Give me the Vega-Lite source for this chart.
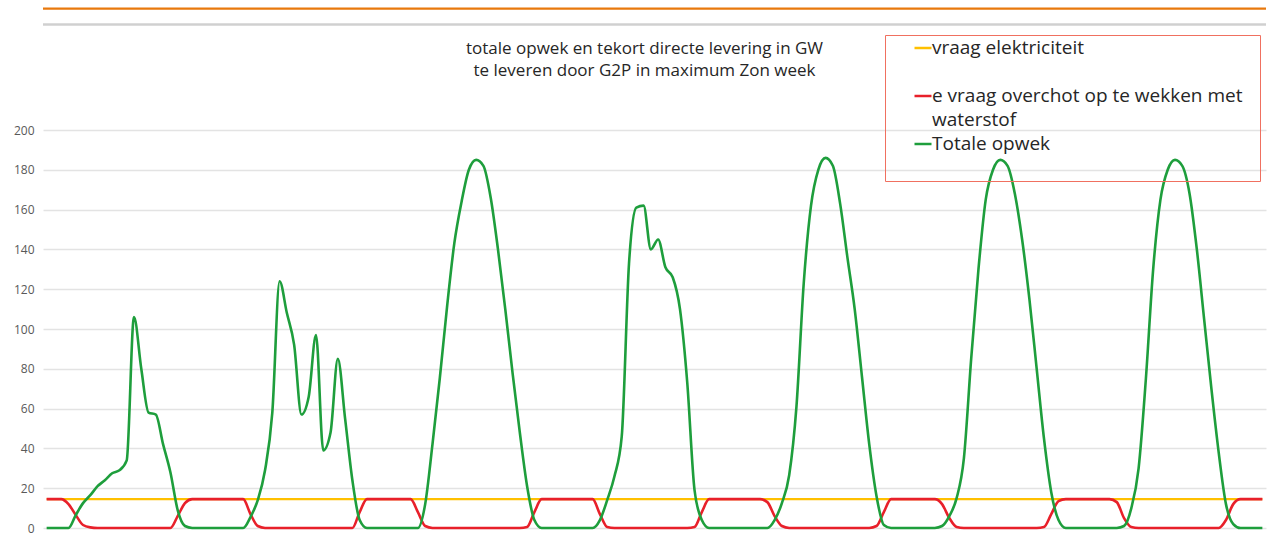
{
  "$schema": "https://vega.github.io/schema/vega-lite/v6.json",
  "autosize": {"type": "none"},
  "width": 1223,
  "height": 398,
  "padding": {"left": 43, "top": 130, "right": 5, "bottom": 5},
  "background": "white",
  "config": {"view": {"stroke": null}},
  "title": {
    "text": ["totale opwek en tekort directe levering in GW", "te leveren door G2P  in maximum  Zon week"],
    "font": "Open Sans", "fontSize": 17, "fontWeight": "normal", "color": "#262626",
    "anchor": "middle", "frame": "group", "dx": -10, "offset": -72, "lineHeight": 22
  },
  "data": {"values": [
      {"h":0,"vraag":14.5,"tekort":14.5,"opwek":0},{"h":1,"vraag":14.5,"tekort":14.5,"opwek":0},{"h":2,"vraag":14.5,"tekort":14.5,"opwek":0},{"h":3,"vraag":14.5,"tekort":12,"opwek":0},{"h":4,"vraag":14.5,"tekort":6.5,"opwek":6.5},{"h":5,"vraag":14.5,"tekort":1.5,"opwek":12.5},{"h":6,"vraag":14.5,"tekort":0.3,"opwek":16.5},{"h":7,"vraag":14.5,"tekort":0,"opwek":21},{"h":8,"vraag":14.5,"tekort":0,"opwek":24},{"h":9,"vraag":14.5,"tekort":0,"opwek":27.5},
      {"h":10,"vraag":14.5,"tekort":0,"opwek":29},{"h":11,"vraag":14.5,"tekort":0,"opwek":34},{"h":12,"vraag":14.5,"tekort":0,"opwek":106},{"h":13,"vraag":14.5,"tekort":0,"opwek":80},{"h":14,"vraag":14.5,"tekort":0,"opwek":58},{"h":15,"vraag":14.5,"tekort":0,"opwek":57},{"h":16,"vraag":14.5,"tekort":0,"opwek":42},{"h":17,"vraag":14.5,"tekort":0,"opwek":28},{"h":18,"vraag":14.5,"tekort":6,"opwek":9},{"h":19,"vraag":14.5,"tekort":12.5,"opwek":1},
      {"h":20,"vraag":14.5,"tekort":14.5,"opwek":0},{"h":21,"vraag":14.5,"tekort":14.5,"opwek":0},{"h":22,"vraag":14.5,"tekort":14.5,"opwek":0},{"h":23,"vraag":14.5,"tekort":14.5,"opwek":0},{"h":24,"vraag":14.5,"tekort":14.5,"opwek":0},{"h":25,"vraag":14.5,"tekort":14.5,"opwek":0},{"h":26,"vraag":14.5,"tekort":14.5,"opwek":0},{"h":27,"vraag":14.5,"tekort":14.5,"opwek":0},{"h":28,"vraag":14.5,"tekort":7,"opwek":5.5},{"h":29,"vraag":14.5,"tekort":1,"opwek":14},
      {"h":30,"vraag":14.5,"tekort":0,"opwek":29},{"h":31,"vraag":14.5,"tekort":0,"opwek":58},{"h":32,"vraag":14.5,"tekort":0,"opwek":124},{"h":33,"vraag":14.5,"tekort":0,"opwek":108},{"h":34,"vraag":14.5,"tekort":0,"opwek":92},{"h":35,"vraag":14.5,"tekort":0,"opwek":57},{"h":36,"vraag":14.5,"tekort":0,"opwek":66},{"h":37,"vraag":14.5,"tekort":0,"opwek":97},{"h":38,"vraag":14.5,"tekort":0,"opwek":39},{"h":39,"vraag":14.5,"tekort":0,"opwek":48},
      {"h":40,"vraag":14.5,"tekort":0,"opwek":85},{"h":41,"vraag":14.5,"tekort":0,"opwek":55},{"h":42,"vraag":14.5,"tekort":0,"opwek":24},{"h":43,"vraag":14.5,"tekort":8,"opwek":4},{"h":44,"vraag":14.5,"tekort":14.5,"opwek":0},{"h":45,"vraag":14.5,"tekort":14.5,"opwek":0},{"h":46,"vraag":14.5,"tekort":14.5,"opwek":0},{"h":47,"vraag":14.5,"tekort":14.5,"opwek":0},{"h":48,"vraag":14.5,"tekort":14.5,"opwek":0},{"h":49,"vraag":14.5,"tekort":14.5,"opwek":0},
      {"h":50,"vraag":14.5,"tekort":14.5,"opwek":0},{"h":51,"vraag":14.5,"tekort":8,"opwek":0},{"h":52,"vraag":14.5,"tekort":1,"opwek":12},{"h":53,"vraag":14.5,"tekort":0,"opwek":42},{"h":54,"vraag":14.5,"tekort":0,"opwek":75},{"h":55,"vraag":14.5,"tekort":0,"opwek":111},{"h":56,"vraag":14.5,"tekort":0,"opwek":143},{"h":57,"vraag":14.5,"tekort":0,"opwek":164},{"h":58,"vraag":14.5,"tekort":0,"opwek":180},{"h":59,"vraag":14.5,"tekort":0,"opwek":185},
      {"h":60,"vraag":14.5,"tekort":0,"opwek":182},{"h":61,"vraag":14.5,"tekort":0,"opwek":166},{"h":62,"vraag":14.5,"tekort":0,"opwek":140},{"h":63,"vraag":14.5,"tekort":0,"opwek":110},{"h":64,"vraag":14.5,"tekort":0,"opwek":78},{"h":65,"vraag":14.5,"tekort":0,"opwek":48},{"h":66,"vraag":14.5,"tekort":0.5,"opwek":21},{"h":67,"vraag":14.5,"tekort":8,"opwek":4},{"h":68,"vraag":14.5,"tekort":14.5,"opwek":0},{"h":69,"vraag":14.5,"tekort":14.5,"opwek":0},
      {"h":70,"vraag":14.5,"tekort":14.5,"opwek":0},{"h":71,"vraag":14.5,"tekort":14.5,"opwek":0},{"h":72,"vraag":14.5,"tekort":14.5,"opwek":0},{"h":73,"vraag":14.5,"tekort":14.5,"opwek":0},{"h":74,"vraag":14.5,"tekort":14.5,"opwek":0},{"h":75,"vraag":14.5,"tekort":14.5,"opwek":0},{"h":76,"vraag":14.5,"tekort":7,"opwek":4},{"h":77,"vraag":14.5,"tekort":0.5,"opwek":14},{"h":78,"vraag":14.5,"tekort":0,"opwek":26},{"h":79,"vraag":14.5,"tekort":0,"opwek":46},
      {"h":80,"vraag":14.5,"tekort":0,"opwek":133},{"h":81,"vraag":14.5,"tekort":0,"opwek":161},{"h":82,"vraag":14.5,"tekort":0,"opwek":162},{"h":83,"vraag":14.5,"tekort":0,"opwek":140},{"h":84,"vraag":14.5,"tekort":0,"opwek":145},{"h":85,"vraag":14.5,"tekort":0,"opwek":131},{"h":86,"vraag":14.5,"tekort":0,"opwek":126},{"h":87,"vraag":14.5,"tekort":0,"opwek":110},{"h":88,"vraag":14.5,"tekort":0,"opwek":73},{"h":89,"vraag":14.5,"tekort":0.5,"opwek":19},
      {"h":90,"vraag":14.5,"tekort":8,"opwek":4},{"h":91,"vraag":14.5,"tekort":14.5,"opwek":0},{"h":92,"vraag":14.5,"tekort":14.5,"opwek":0},{"h":93,"vraag":14.5,"tekort":14.5,"opwek":0},{"h":94,"vraag":14.5,"tekort":14.5,"opwek":0},{"h":95,"vraag":14.5,"tekort":14.5,"opwek":0},{"h":96,"vraag":14.5,"tekort":14.5,"opwek":0},{"h":97,"vraag":14.5,"tekort":14.5,"opwek":0},{"h":98,"vraag":14.5,"tekort":14.5,"opwek":0},{"h":99,"vraag":14.5,"tekort":13,"opwek":0},
      {"h":100,"vraag":14.5,"tekort":6,"opwek":4},{"h":101,"vraag":14.5,"tekort":1,"opwek":12.5},{"h":102,"vraag":14.5,"tekort":0,"opwek":26.5},{"h":103,"vraag":14.5,"tekort":0,"opwek":61},{"h":104,"vraag":14.5,"tekort":0,"opwek":123},{"h":105,"vraag":14.5,"tekort":0,"opwek":162},{"h":106,"vraag":14.5,"tekort":0,"opwek":180},{"h":107,"vraag":14.5,"tekort":0,"opwek":186},{"h":108,"vraag":14.5,"tekort":0,"opwek":182},{"h":109,"vraag":14.5,"tekort":0,"opwek":163},
      {"h":110,"vraag":14.5,"tekort":0,"opwek":136},{"h":111,"vraag":14.5,"tekort":0,"opwek":110},{"h":112,"vraag":14.5,"tekort":0,"opwek":76},{"h":113,"vraag":14.5,"tekort":0,"opwek":42},{"h":114,"vraag":14.5,"tekort":1,"opwek":16},{"h":115,"vraag":14.5,"tekort":8,"opwek":1.5},{"h":116,"vraag":14.5,"tekort":14.5,"opwek":0},{"h":117,"vraag":14.5,"tekort":14.5,"opwek":0},{"h":118,"vraag":14.5,"tekort":14.5,"opwek":0},{"h":119,"vraag":14.5,"tekort":14.5,"opwek":0},
      {"h":120,"vraag":14.5,"tekort":14.5,"opwek":0},{"h":121,"vraag":14.5,"tekort":14.5,"opwek":0},{"h":122,"vraag":14.5,"tekort":14.5,"opwek":0},{"h":123,"vraag":14.5,"tekort":12,"opwek":1},{"h":124,"vraag":14.5,"tekort":5,"opwek":6},{"h":125,"vraag":14.5,"tekort":0.5,"opwek":15},{"h":126,"vraag":14.5,"tekort":0,"opwek":35},{"h":127,"vraag":14.5,"tekort":0,"opwek":85},{"h":128,"vraag":14.5,"tekort":0,"opwek":130},{"h":129,"vraag":14.5,"tekort":0,"opwek":165},
      {"h":130,"vraag":14.5,"tekort":0,"opwek":180},{"h":131,"vraag":14.5,"tekort":0,"opwek":185},{"h":132,"vraag":14.5,"tekort":0,"opwek":182},{"h":133,"vraag":14.5,"tekort":0,"opwek":168},{"h":134,"vraag":14.5,"tekort":0,"opwek":145},{"h":135,"vraag":14.5,"tekort":0,"opwek":115},{"h":136,"vraag":14.5,"tekort":0,"opwek":80},{"h":137,"vraag":14.5,"tekort":0.5,"opwek":45},{"h":138,"vraag":14.5,"tekort":7,"opwek":18},{"h":139,"vraag":14.5,"tekort":13.5,"opwek":4},
      {"h":140,"vraag":14.5,"tekort":14.5,"opwek":0},{"h":141,"vraag":14.5,"tekort":14.5,"opwek":0},{"h":142,"vraag":14.5,"tekort":14.5,"opwek":0},{"h":143,"vraag":14.5,"tekort":14.5,"opwek":0},{"h":144,"vraag":14.5,"tekort":14.5,"opwek":0},{"h":145,"vraag":14.5,"tekort":14.5,"opwek":0},{"h":146,"vraag":14.5,"tekort":14.5,"opwek":0},{"h":147,"vraag":14.5,"tekort":13,"opwek":0},{"h":148,"vraag":14.5,"tekort":5,"opwek":1},{"h":149,"vraag":14.5,"tekort":0.5,"opwek":10},
      {"h":150,"vraag":14.5,"tekort":0,"opwek":30},{"h":151,"vraag":14.5,"tekort":0,"opwek":75},{"h":152,"vraag":14.5,"tekort":0,"opwek":130},{"h":153,"vraag":14.5,"tekort":0,"opwek":165},{"h":154,"vraag":14.5,"tekort":0,"opwek":180},{"h":155,"vraag":14.5,"tekort":0,"opwek":185},{"h":156,"vraag":14.5,"tekort":0,"opwek":182},{"h":157,"vraag":14.5,"tekort":0,"opwek":168},{"h":158,"vraag":14.5,"tekort":0,"opwek":140},{"h":159,"vraag":14.5,"tekort":0,"opwek":105},
      {"h":160,"vraag":14.5,"tekort":0,"opwek":70},{"h":161,"vraag":14.5,"tekort":0,"opwek":38},{"h":162,"vraag":14.5,"tekort":4,"opwek":12},{"h":163,"vraag":14.5,"tekort":12,"opwek":2},{"h":164,"vraag":14.5,"tekort":14.5,"opwek":0},{"h":165,"vraag":14.5,"tekort":14.5,"opwek":0},{"h":166,"vraag":14.5,"tekort":14.5,"opwek":0},{"h":167,"vraag":14.5,"tekort":14.5,"opwek":0}
  ]},
  "layer": [
    {
      "mark": {"type": "line", "strokeWidth": 2.2, "interpolate": "monotone"},
      "encoding": {
        "x": {"field": "h", "type": "quantitative", "axis": null, "scale": {"domain": [-0.5, 167.5], "nice": false, "zero": false}},
        "y": {"field": "vraag", "type": "quantitative", "scale": {"domain": [0, 200], "nice": false},
          "axis": {
            "values": [0, 20, 40, 60, 80, 100, 120, 140, 160, 180, 200], "tickCount": 20,
            "title": null, "domain": false, "ticks": false, "labelOverlap": false,
            "grid": true, "gridColor": "#e3e3e3", "gridWidth": 1.6,
            "labelFont": "Open Sans", "labelFontSize": 12, "labelColor": "#595959", "labelPadding": 9
          }
        },
        "color": {
          "datum": "vraag", "type": "nominal",
          "scale": {
            "domain": ["vraag", "b1", "tekort", "w", "opwek", "b2"],
            "range": ["#ffc000", "rgba(0,0,0,0)", "#e8202a", "rgba(0,0,0,0)", "#1e9e3c", "rgba(0,0,0,0)"]
          },
          "legend": {
            "orient": "none", "legendX": 842, "legendY": -95,
            "title": null, "symbolType": "stroke", "symbolSize": 289, "symbolStrokeWidth": 2.5,
            "symbolOffset": 25, "labelOffset": -1, "padding": 3, "rowPadding": 4,
            "labelFont": "Open Sans", "labelFontSize": 19, "labelColor": "#262626", "labelLimit": 500,
            "strokeColor": "#f07060",
            "labelExpr": "datum.label == 'vraag' ? 'vraag elektriciteit' : datum.label == 'tekort' ? 'e vraag overchot op te wekken met\u2800' : datum.label == 'w' ? 'waterstof' : datum.label == 'opwek' ? 'Totale opwek' : '\u2800'"
          }
        }
      }
    },
    {
      "mark": {"type": "line", "strokeWidth": 2.6, "interpolate": "monotone"},
      "encoding": {
        "x": {"field": "h", "type": "quantitative"},
        "y": {"field": "tekort", "type": "quantitative"},
        "color": {"datum": "tekort", "type": "nominal"}
      }
    },
    {
      "mark": {"type": "line", "strokeWidth": 2.6, "interpolate": "monotone"},
      "encoding": {
        "x": {"field": "h", "type": "quantitative"},
        "y": {"field": "opwek", "type": "quantitative"},
        "color": {"datum": "opwek", "type": "nominal"}
      }
    },
    {
      "mark": {"type": "rule", "color": "#e8780c", "strokeWidth": 2.2},
      "transform": [{"filter": "datum.h == 0"}],
      "encoding": {"y": {"datum": 261}}
    },
    {
      "mark": {"type": "rule", "color": "#d0d0d0", "strokeWidth": 2.5},
      "transform": [{"filter": "datum.h == 0"}],
      "encoding": {"y": {"datum": 253}}
    }
  ]
}
